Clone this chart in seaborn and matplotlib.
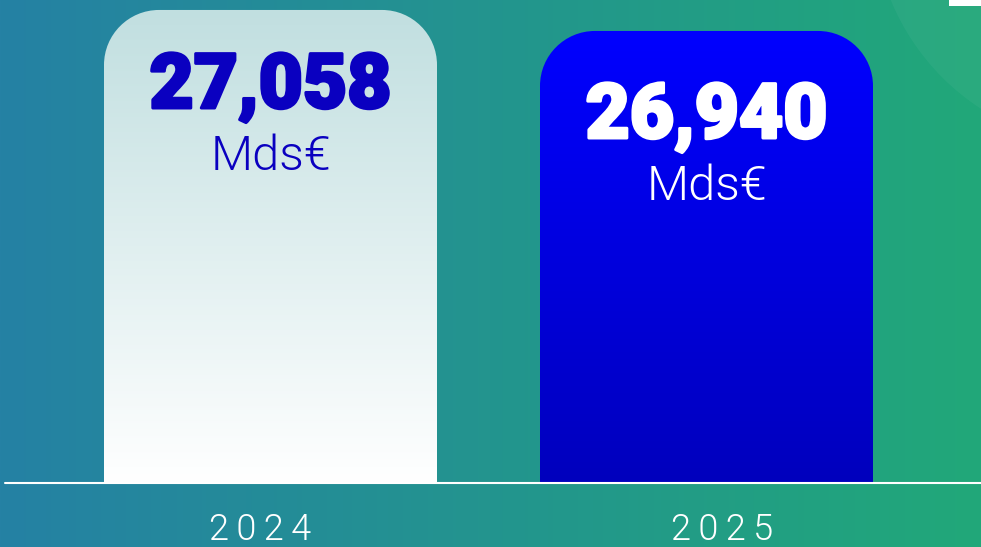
import numpy as np
import pandas as pd
import matplotlib
matplotlib.use('Agg')
import matplotlib.pyplot as plt
import matplotlib.colors as mcolors
import matplotlib.transforms as mtrans
import matplotlib.patheffects as pe
import seaborn as sns
from matplotlib.path import Path
from matplotlib.patches import PathPatch, Rectangle, Circle

# ---- data ----
years = ['2024', '2025']
values = [27058, 26940]
value_labels = ['27,058', '26,940']
unit_label = 'Mds€'

# ---- style ----
sns.set_theme(style='white')
plt.rcParams['font.family'] = ['Roboto', 'DejaVu Sans']

W, H, DPI = 981, 547, 100
fig = plt.figure(figsize=(W / DPI, H / DPI), dpi=DPI)

# background gradient (pixel coordinates, y down)
bg = fig.add_axes([0, 0, 1, 1], zorder=0)
t = np.linspace(0, 1, 512)
c0 = np.array(mcolors.to_rgb('#2581a4'))
c1 = np.array(mcolors.to_rgb('#21a879'))
img = c0[None, None, :] * (1 - t[None, :, None]) + c1[None, None, :] * t[None, :, None]
bg.imshow(img, aspect='auto', extent=[0, W, H, 0])
bg.add_patch(Circle((1110, -90), 237, facecolor='white', alpha=0.045, edgecolor='none'))
bg.add_patch(Rectangle((949, 0), 32, 6, facecolor='white', edgecolor='none'))
bg.set_xlim(0, W)
bg.set_ylim(H, 0)
bg.axis('off')

# main axes
ax_bottom_px = 64
ax_h_px = H - ax_bottom_px
ax = fig.add_axes([0, ax_bottom_px / H, 1, ax_h_px / H], zorder=1)
ax.patch.set_alpha(0)

df = pd.DataFrame({'year': years, 'value': values})
sns.barplot(data=df, x='year', y='value', ax=ax, width=333 / 436, color='white')

xlim = (-270.5 / 436, (W - 270.5) / 436)
ylim = (24400, 27114)

px_x = (xlim[1] - xlim[0]) / W
px_y = (ylim[1] - ylim[0]) / ax_h_px
rad = 55
rx, ry = rad * px_x, rad * px_y
k = 0.5523

bar_grads = [('#c1dfe0', '#ffffff'), ('#0000ff', '#0000bd')]
text_colors = ['#0a00c0', 'white']
num_offsets_px = [98, 107]
unit_offsets_px = [160, 169]

for i, p in enumerate(list(ax.patches)):
    x0 = p.get_x()
    w = p.get_width()
    x1 = x0 + w
    top = p.get_y() + p.get_height()
    ybot = ylim[0]
    p.set_visible(False)
    verts = [(x0, ybot), (x0, top - ry),
             (x0, top - ry + k * ry), (x0 + rx - k * rx, top), (x0 + rx, top),
             (x1 - rx, top),
             (x1 - rx + k * rx, top), (x1, top - ry + k * ry), (x1, top - ry),
             (x1, ybot), (x0, ybot)]
    codes = [Path.MOVETO, Path.LINETO,
             Path.CURVE4, Path.CURVE4, Path.CURVE4,
             Path.LINETO,
             Path.CURVE4, Path.CURVE4, Path.CURVE4,
             Path.LINETO, Path.CLOSEPOLY]
    patch = PathPatch(Path(verts, codes), facecolor='none', edgecolor='none')
    ax.add_patch(patch)
    ct = np.array(mcolors.to_rgb(bar_grads[i][0]))
    cb = np.array(mcolors.to_rgb(bar_grads[i][1]))
    s = np.linspace(0, 1, 256)[:, None, None]
    arr = ct[None, None, :] * (1 - s) + cb[None, None, :] * s
    im = ax.imshow(arr, extent=[x0, x1, ybot, top], aspect='auto',
                   origin='upper', zorder=2, interpolation='bilinear')
    im.set_clip_path(patch)

    xc = x0 + w / 2
    ax.annotate(value_labels[i], xy=(xc, top), xytext=(0, -num_offsets_px[i] * 0.72),
                textcoords='offset points', ha='center', va='baseline',
                fontsize=55, fontweight=900, color=text_colors[i], zorder=4,
                path_effects=[pe.Stroke(linewidth=2.2, foreground=text_colors[i]),
                              pe.Normal()])
    ax.annotate(unit_label, xy=(xc, top), xytext=(0, -unit_offsets_px[i] * 0.72),
                textcoords='offset points', ha='center', va='baseline',
                fontsize=35, fontweight=300, color=text_colors[i], zorder=4)

ax.axhline(ylim[0], xmin=5 / W, xmax=1, color='white', lw=1.5, zorder=5, clip_on=False)

ax.set_xlim(*xlim)
ax.set_ylim(*ylim)
ax.set_xticks([0, 1])
ax.set_xticklabels(['\u2009'.join(y) for y in years])
ax.tick_params(axis='x', length=0, pad=21, labelsize=26, labelcolor='white')
label_shift_px = [-10, 16]
for lab, dx in zip(ax.get_xticklabels(), label_shift_px):
    lab.set_fontweight(300)
    lab.set_transform(lab.get_transform() +
                      mtrans.ScaledTranslation(dx / DPI, 0, fig.dpi_scale_trans))
ax.set_yticks([])
ax.set_xlabel('')
ax.set_ylabel('')
for sp in ax.spines.values():
    sp.set_visible(False)

fig.savefig('out.png', dpi=DPI)
